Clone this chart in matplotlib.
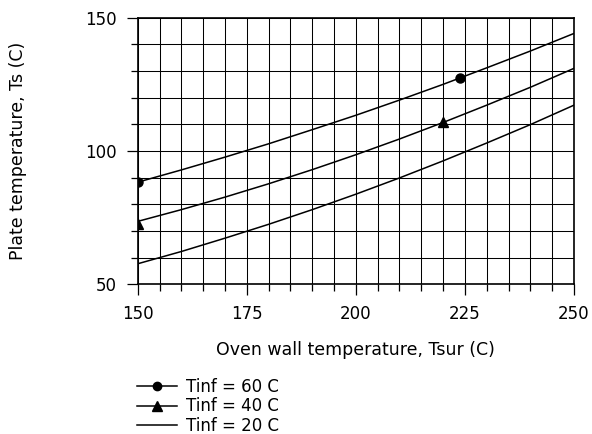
import matplotlib.pyplot as plt
from matplotlib.ticker import MultipleLocator

plt.rcParams['font.family'] = ['DejaVu Sans']

# Oven wall temperature (C)
tsur = [150, 160, 170, 180, 190, 200, 210, 220, 230, 240, 250]

# Plate temperature (C) for each ambient temperature
ts_60 = [88.3, 92.9, 97.7, 102.7, 108.0, 113.4, 119.1, 125.0, 131.2, 137.5, 144.1]
ts_40 = [73.6, 78.0, 82.7, 87.7, 93.0, 98.6, 104.5, 110.7, 117.2, 123.9, 131.0]
ts_20 = [57.7, 62.3, 67.3, 72.5, 78.0, 83.8, 89.9, 96.3, 103.0, 109.9, 117.2]

# marked points
mark_60_x = [150, 223.9]
mark_60_y = [88.3, 127.4]
mark_40_x = [150, 220]
mark_40_y = [72.8, 110.7]

fig = plt.figure(figsize=(5.92, 4.34), dpi=100)
ax = fig.add_axes([137.7 / 592, 1 - 284.3 / 434, 436.3 / 592, 266.6 / 434])

ax.plot(tsur, ts_60, color='black', lw=1.1)
ax.plot(tsur, ts_40, color='black', lw=1.1)
ax.plot(tsur, ts_20, color='black', lw=1.1)
ax.plot(mark_60_x, mark_60_y, 'o', color='black', ms=6.5)
ax.plot(mark_40_x, mark_40_y, '^', color='black', ms=7.2)

# legend handles
h60, = ax.plot([], [], '-o', color='black', lw=1.1, ms=6, label='Tinf = 60 C')
h40, = ax.plot([], [], '-^', color='black', lw=1.1, ms=7, label='Tinf = 40 C')
h20, = ax.plot([], [], '-', color='black', lw=1.1, label='Tinf = 20 C')

ax.set_xlim(150, 250)
ax.set_ylim(50, 150)
ax.xaxis.set_major_locator(MultipleLocator(25))
ax.xaxis.set_minor_locator(MultipleLocator(5))
ax.yaxis.set_major_locator(MultipleLocator(50))
ax.yaxis.set_minor_locator(MultipleLocator(10))
ax.grid(True, which='both', color='black', lw=0.75)
ax.tick_params(which='major', direction='out', length=7.7, width=0.9, color='black',
               labelsize=12, pad=7.5)
ax.tick_params(which='minor', direction='out', length=4.8, width=0.9, color='black')
for s in ax.spines.values():
    s.set_linewidth(1.2)

fig.text(355.9 / 592, 1 - 350 / 434, 'Oven wall temperature, Tsur (C)',
         fontsize=12.5, ha='center', va='center')
fig.text(18 / 592, 1 - 151 / 434, 'Plate temperature, Ts (C)',
         fontsize=12.5, ha='center', va='center', rotation=90)

fig.legend(handles=[h60, h40, h20], loc='upper left',
           bbox_to_anchor=(136.7 / 592, 1 - 378 / 434), frameon=False,
           fontsize=12, handlelength=2.42, handletextpad=0.55,
           labelspacing=0.08, borderpad=0, borderaxespad=0)

plt.savefig('out.png', dpi=100)
